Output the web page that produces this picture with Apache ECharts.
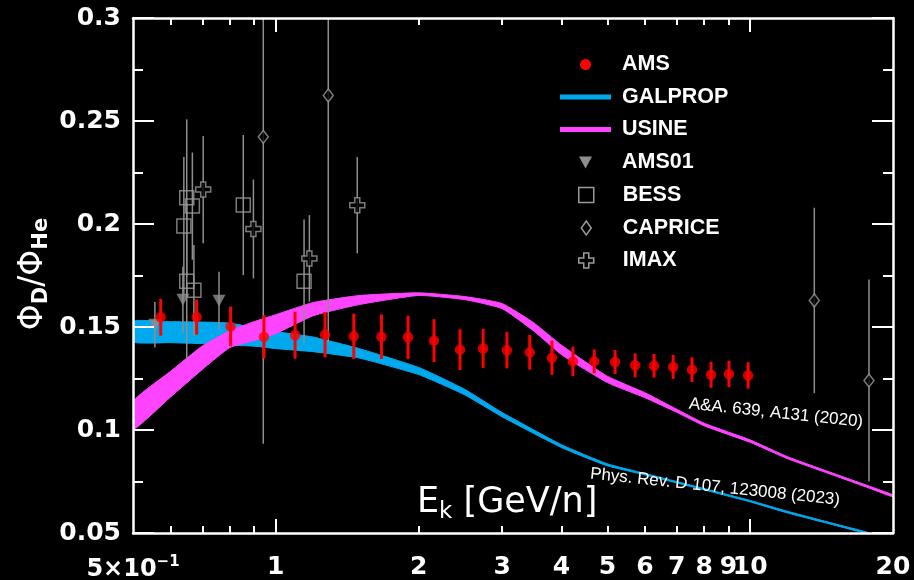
<!DOCTYPE html>
<html><head><meta charset="utf-8">
<script src="https://cdn.jsdelivr.net/npm/echarts@6/dist/echarts.min.js"></script>
<style>html,body{margin:0;padding:0;background:#000;}#c{width:914px;height:580px;}</style>
</head><body><div id="c"></div>
<script>
// ---- data ----
const amsE = [0.572, 0.681, 0.803, 0.944, 1.098, 1.27, 1.46, 1.67, 1.90, 2.155, 2.445, 2.735, 3.07, 3.43, 3.82, 4.23, 4.69, 5.19, 5.72, 6.27, 6.88, 7.54, 8.27, 9.02, 9.90];
const amsRatio = [0.1547, 0.1548, 0.1503, 0.1452, 0.1460, 0.1463, 0.1455, 0.1453, 0.1450, 0.1434, 0.1390, 0.1396, 0.1387, 0.1377, 0.1351, 0.1333, 0.1333, 0.1330, 0.1314, 0.1312, 0.1306, 0.1293, 0.1268, 0.1272, 0.1265];
const amsErr = [0.0089, 0.0085, 0.0096, 0.0105, 0.0114, 0.0110, 0.0110, 0.0108, 0.0105, 0.0104, 0.0099, 0.0095, 0.0088, 0.0084, 0.0083, 0.0071, 0.0058, 0.0058, 0.0058, 0.0057, 0.0058, 0.0060, 0.0063, 0.0064, 0.0064];

const galE  = [0.5, 0.6, 0.7, 0.8, 0.9, 1.0, 1.2, 1.5, 2, 2.5, 3, 4, 5, 6, 7, 8, 10, 12, 15, 17.7];
const galHi = [0.1528, 0.1526, 0.1524, 0.1519, 0.1497, 0.1478, 0.1451, 0.1395, 0.1304, 0.1198, 0.1085, 0.0929, 0.0836, 0.0789, 0.0750, 0.0716, 0.0658, 0.0605, 0.0546, 0.0503];
const galLo = [0.1427, 0.1424, 0.1419, 0.1412, 0.1407, 0.1395, 0.1380, 0.1349, 0.1269, 0.1171, 0.1064, 0.0915, 0.0826, 0.0782, 0.0743, 0.0709, 0.0651, 0.0597, 0.0539, 0.0496];

const usiE  = [0.5, 0.6, 0.7, 0.8, 0.9, 1.0, 1.2, 1.5, 2, 2.5, 3, 3.5, 4, 5, 6, 7, 8, 10, 12, 15, 18, 20];
const usiHi = [0.1139, 0.1285, 0.1408, 0.1482, 0.1526, 0.1560, 0.1619, 0.1653, 0.1666, 0.1648, 0.1614, 0.1520, 0.1412, 0.1261, 0.1181, 0.1101, 0.1033, 0.0952, 0.0870, 0.0789, 0.0724, 0.0685];
const usiLo = [0.1001, 0.1160, 0.1294, 0.1400, 0.1434, 0.1468, 0.1555, 0.1609, 0.1653, 0.1633, 0.1589, 0.1480, 0.1366, 0.1230, 0.1157, 0.1086, 0.1020, 0.0940, 0.0860, 0.0780, 0.0714, 0.0675];

const ams01E = [0.556, 0.637, 0.759];
const ams01R = [0.1511, 0.1632, 0.1628];
const ams01Err = [0.011, 0.016, 0.014];

const bessE = [0.640, 0.649, 0.649, 0.667, 0.672, 0.854, 1.147];
const bessR = [0.1990, 0.2128, 0.1722, 0.2087, 0.1678, 0.2092, 0.1722];
const bessErr = [0.0335, 0.038, 0.038, 0.026, 0.022, 0.034, 0.030];

const capE = [0.941, 1.29, 13.65, 17.8];
const capR = [0.2423, 0.2624, 0.1629, 0.1240];
const capErr = [0.149, 0.120, 0.045, 0.049];

const imaxE = [0.703, 0.897, 1.177, 1.485];
const imaxR = [0.2167, 0.1976, 0.1833, 0.2091];
const imaxErr = [0.026, 0.024, 0.021, 0.0234];

const xLabelValues = [0.5, 1, 2, 3, 4, 5, 6, 7, 8, 9, 10, 20];
const xLabelTexts = ['5×10^−1', '1', '2', '3', '4', '5', '6', '7', '8', '9', '10', '20'];
const xMinorTicks = [0.6, 0.7, 0.8, 0.9, 2, 3, 4, 5, 6, 7, 8, 9];
const xMajorTicks = [1, 10];
const yTicks = [0.05, 0.1, 0.15, 0.2, 0.25, 0.3];
const yLabels = ['0.05', '0.1', '0.15', '0.2', '0.25', '0.3'];

// ---- styles ----
const RED = '#ff0000', BLUE = '#00a9ee', MAG = '#ff44ff', GRAY = '#8e8e8e', GRAY2 = '#9a9a9a';
const AXF = 'DejaVu Sans';
const LEGF = 'Liberation Sans';
const crossPath = 'path://M3,0H6V3H9V6H6V9H3V6H0V3H3Z';
const triPath = 'path://M0,0L13,0L6.5,12Z';

const chart = echarts.init(document.getElementById('c'), null, {renderer: 'canvas'});

function bandSeries(name, E, lo, hi, color) {
  return {
    type: 'custom', name: name, clip: true, z: 2, silent: true,
    data: [[E[0], lo[0]]], encode: {x: 0, y: 1},
    itemStyle: {color: color},
    renderItem: function (params, api) {
      const up = E.map((e, i) => api.coord([e, hi[i]]));
      const dn = E.map((e, i) => api.coord([e, lo[i]])).reverse();
      return {type: 'polygon', shape: {points: up.concat(dn), smooth: 0.15},
        style: {fill: color, stroke: color, lineWidth: 1}};
    }
  };
}
function errSeries(name, E, V, ERR, color, width, z) {
  return {
    type: 'custom', name: name, clip: true, z: z, silent: true,
    data: E.map((e, i) => [e, V[i], ERR[i]]), encode: {x: 0, y: 1},
    itemStyle: {color: color},
    renderItem: function (params, api) {
      const e = api.value(0), v = api.value(1), d = api.value(2);
      const p1 = api.coord([e, v - d]), p2 = api.coord([e, v + d]);
      return {type: 'line', shape: {x1: p1[0], y1: p1[1], x2: p2[0], y2: p2[1]},
        style: {stroke: color, lineWidth: width}};
    }
  };
}
function pts(E, V) { return E.map((e, i) => [e, V[i]]); }

const tickStyle = {color: '#fff', width: 2};
const xBase = {type: 'log', logBase: 10, min: 0.5, max: 20, z: 10,
  splitLine: {show: false}, minorTick: {show: false}, minorSplitLine: {show: false}};
const lineOn = {show: true, onZero: false, lineStyle: {color: '#fff', width: 2.5}};

// iw: drawn icon width (legend is positioned by its bounding box)
function legendItem(name, cy, icon, ih, iw, style) {
  return {
    show: true, orient: 'vertical', left: 560 + (51 - iw) / 2, top: cy - 10.5, padding: 0,
    itemWidth: 51, itemHeight: ih, selectedMode: false, icon: icon,
    data: [{name: name, itemStyle: style}],
    textStyle: {color: '#fff', fontSize: 21.5, fontWeight: 'bold', fontFamily: LEGF, padding: [0, 0, 0, 6]}
  };
}

const option = {
  backgroundColor: '#000',
  animation: false,
  grid: {left: 133, right: 21, top: 18, bottom: 47, containLabel: false, outerBoundsMode: 'none'},
  xAxis: [
    Object.assign({}, xBase, {position: 'bottom', axisLine: lineOn,
      axisTick: {show: true, inside: true, length: 7, customValues: xMinorTicks, lineStyle: tickStyle},
      axisLabel: {show: true, customValues: xLabelValues, margin: 22, color: '#fff', fontSize: 25,
        fontWeight: 'bold', fontFamily: AXF,
        formatter: function (v) {
          const i = xLabelValues.findIndex(t => Math.abs(t - v) / t < 1e-6);
          if (i === 0) { const p = xLabelTexts[0].split('^'); return '{a|' + p[0] + '}{b|' + p[1] + '}'; }
          return i >= 0 ? xLabelTexts[i] : '';
        },
        rich: {a: {fontSize: 24, fontFamily: AXF, color: '#fff', lineHeight: 30},
               b: {fontSize: 15, fontFamily: AXF, color: '#fff', verticalAlign: 'top', lineHeight: 15}}}}),
    Object.assign({}, xBase, {position: 'bottom', axisLine: {show: false},
      axisTick: {show: true, inside: true, length: 14, customValues: xMajorTicks, lineStyle: tickStyle},
      axisLabel: {show: false}}),
    Object.assign({}, xBase, {position: 'top', axisLine: lineOn,
      axisTick: {show: true, inside: true, length: 7, customValues: xMinorTicks, lineStyle: tickStyle},
      axisLabel: {show: false}}),
    Object.assign({}, xBase, {position: 'top', axisLine: {show: false},
      axisTick: {show: true, inside: true, length: 14, customValues: xMajorTicks, lineStyle: tickStyle},
      axisLabel: {show: false}})
  ],
  yAxis: [
    {type: 'value', min: 0.05, max: 0.3, interval: 0.05, position: 'left', z: 10,
      axisLine: lineOn, splitLine: {show: false},
      axisTick: {show: true, inside: true, length: 21, lineStyle: tickStyle},
      minorTick: {show: true, splitNumber: 2, length: 10, lineStyle: tickStyle},
      axisLabel: {show: true, customValues: yTicks, margin: 12, color: '#fff', fontSize: 25, fontWeight: 'bold', fontFamily: AXF,
        formatter: function (v) { const i = yTicks.findIndex(t => Math.abs(t - v) < 1e-9); return i >= 0 ? yLabels[i] : ''; }}},
    {type: 'value', min: 0.05, max: 0.3, interval: 0.05, position: 'right', z: 10,
      axisLine: lineOn, splitLine: {show: false},
      axisTick: {show: true, inside: true, length: 21, lineStyle: tickStyle},
      minorTick: {show: true, splitNumber: 2, length: 10, lineStyle: tickStyle},
      axisLabel: {show: false}}
  ],
  legend: [
    legendItem('AMS', 64, 'circle', 11, 11, {color: RED}),
    legendItem('GALPROP', 96.5, 'path://M0,0H51V5H0Z', 5, 51, {color: BLUE}),
    legendItem('USINE', 129, 'path://M0,0H51V5H0Z', 5, 51, {color: MAG}),
    legendItem('AMS01', 162, triPath, 12, 13, {color: GRAY}),
    legendItem('BESS', 194.5, 'path://M0,0H14V14H0Z', 15, 15, {color: 'transparent', borderColor: GRAY2, borderWidth: 1.5}),
    legendItem('CAPRICE', 227.5, 'path://M5,0L10,7L5,14L0,7Z', 14, 10, {color: 'transparent', borderColor: GRAY2, borderWidth: 1.5}),
    legendItem('IMAX', 260, crossPath, 15, 15, {color: 'transparent', borderColor: GRAY2, borderWidth: 1.5})
  ],
  series: [
    bandSeries('GALPROP', galE, galLo, galHi, BLUE),
    bandSeries('USINE', usiE, usiLo, usiHi, MAG),
    errSeries('AMS01', ams01E, ams01R, ams01Err, GRAY, 1.5, 3),
    errSeries('BESS', bessE, bessR, bessErr, GRAY, 1.5, 3),
    errSeries('CAPRICE', capE, capR, capErr, GRAY, 1.5, 3),
    errSeries('IMAX', imaxE, imaxR, imaxErr, GRAY, 1.5, 3),
    {type: 'scatter', name: 'AMS01', data: pts(ams01E, ams01R), symbol: triPath, symbolSize: [13, 12], z: 4, silent: true,
      itemStyle: {color: GRAY}},
    {type: 'scatter', name: 'BESS', data: pts(bessE, bessR), symbol: 'rect', symbolSize: 14, z: 4, silent: true,
      itemStyle: {color: 'transparent', borderColor: GRAY2, borderWidth: 1.5}},
    {type: 'scatter', name: 'CAPRICE', data: pts(capE, capR), symbol: 'diamond', symbolSize: [10, 13], z: 4, silent: true,
      itemStyle: {color: '#000', borderColor: GRAY2, borderWidth: 1.5}},
    {type: 'scatter', name: 'IMAX', data: pts(imaxE, imaxR), symbol: crossPath, symbolSize: 15, z: 4, silent: true,
      itemStyle: {color: '#000', borderColor: GRAY2, borderWidth: 1.5}},
    errSeries('AMS', amsE, amsRatio, amsErr, RED, 3, 5),
    {type: 'scatter', name: 'AMS', data: pts(amsE, amsRatio), symbol: 'circle', symbolSize: 10.5, z: 6, silent: true,
      itemStyle: {color: RED}}
  ],
  graphic: [
    {type: 'text', x: 33, y: 274, rotation: Math.PI / 2, z: 20,
      style: {text: '{m|Φ}{s|D}{m|/Φ}{s|He}', align: 'center', verticalAlign: 'middle',
        rich: {m: {fontSize: 33, fontFamily: AXF, fill: '#fff', color: '#fff', lineHeight: 38},
               s: {fontSize: 21, fontFamily: AXF, fontWeight: 'bold', fill: '#fff', color: '#fff', verticalAlign: 'bottom'}}}},
    {type: 'text', x: 417, y: 503, z: 20,
      style: {text: '{m|E}{s|k}{m| [GeV/n]}', align: 'left', verticalAlign: 'middle',
        rich: {m: {fontSize: 35, fontFamily: AXF, fill: '#fff', color: '#fff', lineHeight: 42},
               s: {fontSize: 23, fontFamily: AXF, fill: '#fff', color: '#fff', verticalAlign: 'bottom'}}}},
    {type: 'text', x: 776, y: 413, rotation: -0.105, z: 20,
      style: {text: 'A&A. 639, A131 (2020)', fill: '#fff', fontSize: 17, fontFamily: LEGF, align: 'center', verticalAlign: 'middle'}},
    {type: 'text', x: 715, y: 487, rotation: -0.105, z: 20,
      style: {text: 'Phys. Rev. D 107, 123008 (2023)', fill: '#fff', fontSize: 17, fontFamily: LEGF, align: 'center', verticalAlign: 'middle'}}
  ]
};
chart.setOption(option);
</script>
</body></html>
